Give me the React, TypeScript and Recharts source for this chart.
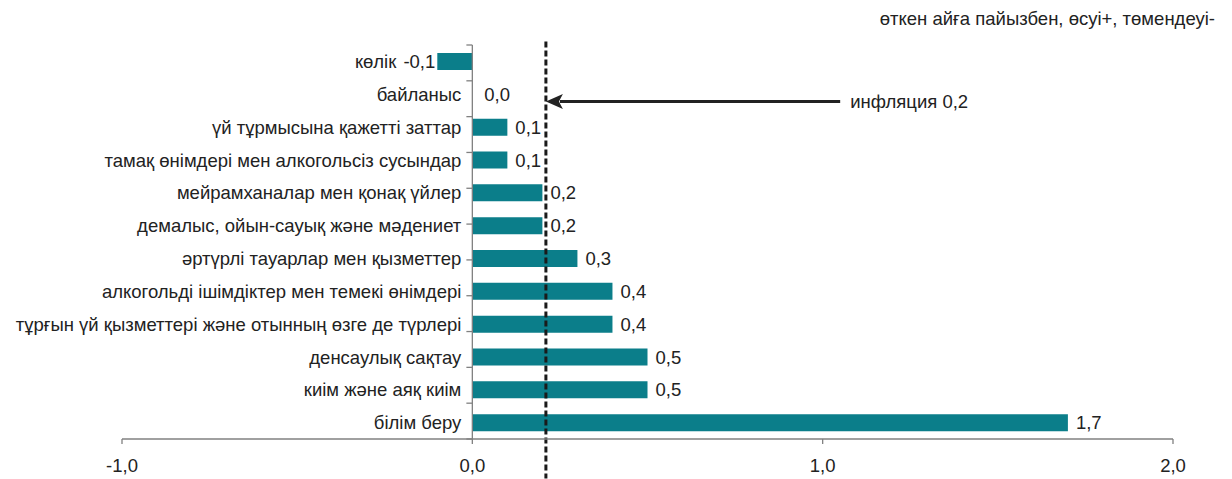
import { BarChart, Bar, XAxis, YAxis, ReferenceLine, LabelList, Rectangle } from "recharts"

const categories = [
  "көлік",
  "байланыс",
  "үй тұрмысына қажетті заттар",
  "тамақ өнімдері мен алкогольсіз сусындар",
  "мейрамханалар мен қонақ үйлер",
  "демалыс, ойын-сауық және мәдениет",
  "әртүрлі тауарлар мен қызметтер",
  "алкогольді ішімдіктер мен темекі өнімдері",
  "тұрғын үй қызметтері және отынның өзге де түрлері",
  "денсаулық сақтау",
  "киім және аяқ киім",
  "білім беру",
]
const values = [-0.1, 0.0, 0.1, 0.1, 0.2, 0.2, 0.3, 0.4, 0.4, 0.5, 0.5, 1.7]
const xTicks = [-1, 0, 1, 2]
const inflation = 0.21
const inflationLabel = "инфляция 0,2"
const note = "өткен айға пайызбен, өсуі+, төмендеуі-"

const data = categories.map((name, i) => ({ name, value: values[i] }))
const bandEdges = categories.map((_, i) => i).concat(categories.length)

const TEAL = "#0b7e8a"
const INK = "#222"
const AXIS = "#808080"
const FONT = "'Liberation Sans', Arial, sans-serif"
const FS = 18.5

const fmt = (v: number) => v.toFixed(1).replace(".", ",")

const box = (p: any) => {
  const vb = p.viewBox || p
  const x = Number(vb.x), w = Number(vb.width)
  const y = Number(vb.y), h = Number(vb.height)
  return { left: Math.min(x, x + w), right: Math.max(x, x + w), cy: y + h / 2 }
}

const ValueLabel = (p: any) => {
  const { left, right, cy } = box(p)
  const v = Number(p.value)
  const neg = v < 0
  return (
    <text
      x={neg ? left - 2 : v === 0 ? left + 12 : right + 8}
      y={cy}
      textAnchor={neg ? "end" : "start"}
      dominantBaseline="central"
      fontSize={FS}
      fill={INK}
      fontFamily={FONT}
    >
      {fmt(v)}
    </text>
  )
}

const NameLabel = (p: any) => {
  const { left, cy } = box(p)
  const v = values[p.index] ?? 0
  const x = v < 0 ? left - 41 : left - 11
  return (
    <text x={x} y={cy} textAnchor="end" dominantBaseline="central" fontSize={FS} fill={INK} fontFamily={FONT}>
      {p.value}
    </text>
  )
}

const BarShape = (p: any) => {
  if (p.payload && p.payload.value === 0) return <g />
  return <Rectangle {...p} />
}

const Arrow = (p: any) => {
  const { x1, y1, x2 } = p
  return (
    <g>
      <line x1={x1} y1={y1} x2={x2 + 14} y2={y1} stroke={INK} strokeWidth={3} />
      <polygon points={`${x2},${y1} ${x2 + 17},${y1 - 7.5} ${x2 + 13},${y1} ${x2 + 17},${y1 + 7.5}`} fill={INK} />
      <text x={x1 + 10} y={y1} dominantBaseline="central" fontSize={FS} fill={INK} fontFamily={FONT}>
        {inflationLabel}
      </text>
    </g>
  )
}

export default function App() {
  return (
    <div style={{ position: "absolute", left: 0, top: 0, width: 1232, height: 479, background: "#fff", fontFamily: FONT }}>
      <div style={{ position: "absolute", right: 17, top: 8, fontSize: FS, color: INK, whiteSpace: "nowrap" }}>{note}</div>
      <BarChart width={1232} height={479} data={data} layout="vertical" margin={{ top: 45, right: 59, bottom: 4, left: 122 }}>
        <XAxis
          type="number"
          domain={[-1, 2]}
          ticks={xTicks}
          tickFormatter={fmt}
          axisLine={{ stroke: AXIS, strokeWidth: 1.3 }}
          tickLine={{ stroke: AXIS, strokeWidth: 1.3 }}
          tickSize={5}
          tickMargin={15}
          height={36}
          tick={{ fill: INK, fontSize: FS, fontFamily: FONT }}
        />
        <YAxis type="category" dataKey="name" hide />
        <YAxis yAxisId="band" type="number" domain={[0, categories.length]} allowDataOverflow hide />
        <ReferenceLine x={0} stroke={AXIS} strokeWidth={1.3} />
        {bandEdges.map((k) => (
          <ReferenceLine
            key={k}
            yAxisId="band"
            segment={[{ x: -0.017, y: k }, { x: 0, y: k }]}
            stroke={AXIS}
            strokeWidth={1.3}
          />
        ))}
        <Bar dataKey="value" fill={TEAL} barSize={17} minPointSize={1} shape={BarShape} isAnimationActive={false}>
          <LabelList dataKey="value" content={ValueLabel} />
          <LabelList dataKey="name" content={NameLabel} />
        </Bar>
        <ReferenceLine
          yAxisId="band"
          segment={[{ x: inflation, y: -0.1 }, { x: inflation, y: categories.length + 0.1 }]}
          ifOverflow="visible"
          stroke="#1a1a1a"
          strokeWidth={3}
          strokeDasharray="6 3"
        />
        <ReferenceLine
          yAxisId="band"
          segment={[{ x: 1.05, y: 1.58 }, { x: inflation, y: 1.58 }]}
          ifOverflow="visible"
          shape={Arrow}
        />
      </BarChart>
    </div>
  )
}
